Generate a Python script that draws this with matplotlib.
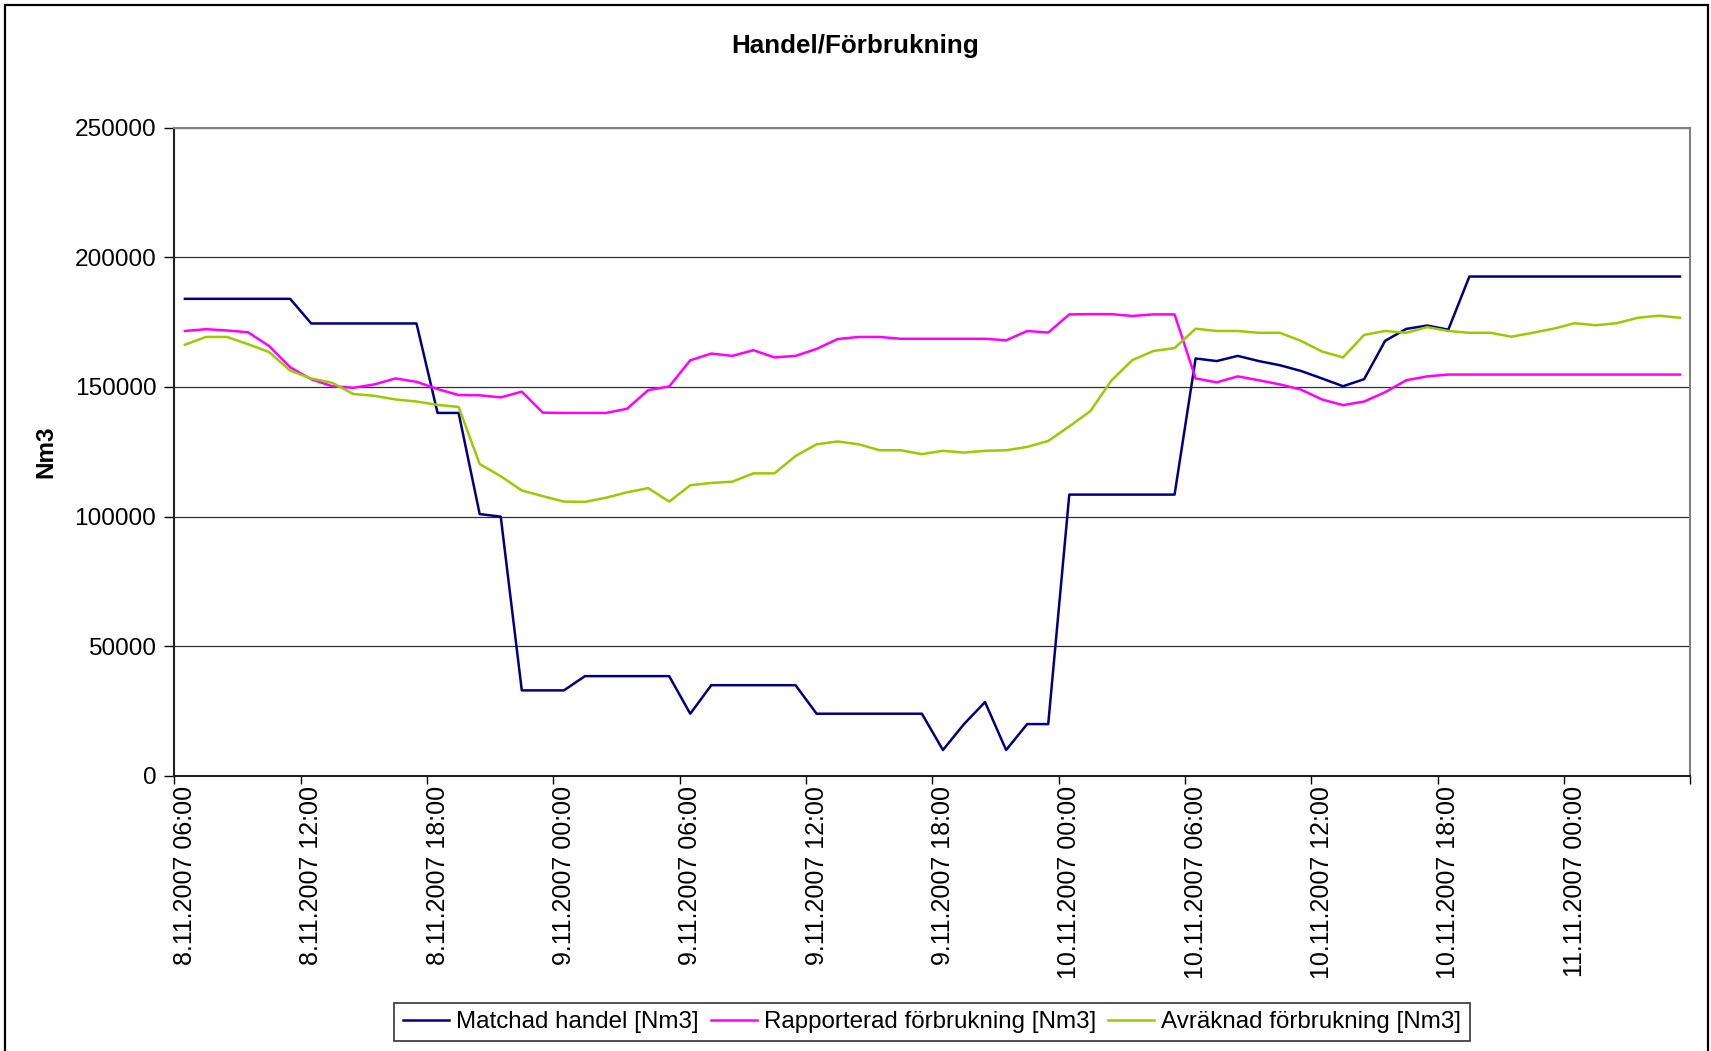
import matplotlib
matplotlib.use("Agg")
import matplotlib.pyplot as plt
import numpy as np
from matplotlib.patches import Rectangle

plt.rcParams['font.family'] = ['Liberation Sans', 'DejaVu Sans']

# hourly categories, 8.11.2007 06:00 .. 11.11.2007 05:00
start_day = 8
start_hour = 6
n_hours = 72

matchad = [184000, 184000, 184000, 184000, 184000, 184000, 174500, 174500, 174500, 174500,
           174500, 174500, 140000, 140000, 101000, 100000, 33000, 33000, 33000, 38500,
           38500, 38500, 38500, 38500, 24000, 35000, 35000, 35000, 35000, 35000,
           24000, 24000, 24000, 24000, 24000, 24000, 10000, 20000, 28500, 10000,
           20000, 20000, 108500, 108500, 108500, 108500, 108500, 108500, 161000, 160000,
           162000, 160000, 158400, 156200, 153300, 150300, 153000, 167800, 172400, 173700,
           172100, 192600, 192600, 192600, 192600, 192600, 192600, 192600, 192600, 192600,
           192600, 192600]

rapporterad = [171600, 172300, 171800, 171100, 165800, 157600, 153000, 150300, 149700, 151000,
               153300, 152000, 149200, 146900, 146800, 146000, 148200, 140100, 140000, 140000,
               140000, 141600, 148800, 150200, 160300, 162900, 162000, 164200, 161400, 162000,
               164700, 168500, 169300, 169300, 168600, 168600, 168600, 168600, 168600, 168000,
               171600, 171000, 178000, 178100, 178100, 177400, 178000, 178000, 153300, 151800,
               154100, 152600, 151000, 149000, 145200, 143000, 144400, 148000, 152600, 154100,
               154800, 154800, 154800, 154800, 154800, 154800, 154800, 154800, 154800, 154800,
               154800, 154800]

avraknad = [166300, 169300, 169300, 166500, 163500, 156300, 153300, 151600, 147300, 146600,
            145200, 144400, 143100, 142300, 120300, 115600, 110100, 107900, 105800, 105700,
            107300, 109400, 111000, 105800, 112100, 113000, 113500, 116700, 116700, 123400,
            127900, 129000, 127900, 125600, 125600, 124100, 125400, 124700, 125400, 125600,
            126900, 129200, 134800, 140700, 152500, 160400, 163900, 165000, 172500, 171600,
            171600, 170900, 170900, 167800, 163700, 161400, 170100, 171600, 170900, 173100,
            171600, 170900, 170900, 169400, 170900, 172500, 174600, 173800, 174600, 176700,
            177500, 176700]

series_names = ['Matchad handel [Nm3]', 'Rapporterad förbrukning [Nm3]',
                'Avräknad förbrukning [Nm3]']
series_colors = ['#000080', '#FF00FF', '#99CC00']

# tick labels every 6 hours
label_pos = list(range(0, n_hours, 6))
label_text = []
for p in label_pos:
    h = start_hour + p
    label_text.append('%d.11.2007 %02d:00' % (start_day + h // 24, h % 24))

fig = plt.figure(figsize=(17.11, 10.51), dpi=100)
ax = fig.add_axes([0.1019, 0.2617, 0.8861, 0.6168])

x = np.arange(n_hours)
for vals, name, col in zip([matchad, rapporterad, avraknad], series_names, series_colors):
    ax.plot(x, vals, color=col, linewidth=1.8, label=name)

ax.set_xlim(-0.5, n_hours - 0.5)
ax.set_ylim(0, 250000)
ax.set_yticks(np.arange(0, 250001, 50000))
ax.set_yticklabels([str(v) for v in range(0, 250001, 50000)], fontsize=17.6)
ax.tick_params(axis='y', length=7, width=1, color='black', pad=6)

# tick marks on category boundaries, labels at category centres
ax.set_xticks(np.arange(-0.5, n_hours, 6))
ax.set_xticklabels([])
ax.tick_params(axis='x', which='major', length=6, width=1, color='black')
ax.set_xticks(label_pos, minor=True)
ax.set_xticklabels(label_text, minor=True, rotation=90, fontsize=18)
ax.tick_params(axis='x', which='minor', length=0, pad=7)

ax.grid(axis='y', color='#303030', linewidth=0.9)
ax.set_axisbelow(True)
for s in ['top', 'right']:
    ax.spines[s].set_color('#808080')
    ax.spines[s].set_linewidth(1.5)
for s in ['left', 'bottom']:
    ax.spines[s].set_color('#202020')
    ax.spines[s].set_linewidth(1.5)

ax.set_ylabel('Nm3', fontsize=17.5, fontweight='bold', labelpad=0)
ax.yaxis.set_label_coords(-0.077, 0.5)

fig.text(0.5, 1 - 46 / 1051, 'Handel/Förbrukning', ha='center', va='center',
         fontsize=18.7, fontweight='bold')

leg = fig.legend(loc='center', bbox_to_anchor=(932 / 1711, 1 - 1022 / 1051), ncol=3,
                 fontsize=17.4, frameon=True, fancybox=False, handlelength=1.9,
                 handletextpad=0.3, columnspacing=0.5, borderpad=0.35)
leg.get_frame().set_edgecolor('black')
leg.get_frame().set_linewidth(1.2)

# chart area border (open at the bottom, as in the source)
fig.add_artist(Rectangle((5 / 1711, -0.05), 1703 / 1711, 1.05 - 5 / 1051,
                         transform=fig.transFigure, fill=False,
                         edgecolor='black', linewidth=1.6))

fig.savefig('out.png', dpi=100)
